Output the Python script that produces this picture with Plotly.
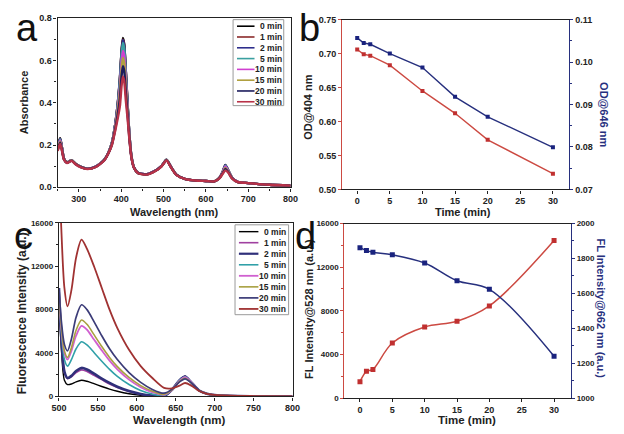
import plotly.graph_objects as go

# ---------------- DATA ----------------
series_names = ["0 min", "1 min", "2 min", "5 min", "10 min", "15 min", "20 min", "30 min"]

# Panel a: UV-vis absorbance spectra
wl_a = [250, 253, 256, 260, 265, 272, 283, 292, 305, 320, 340, 360, 370, 378, 386, 392, 397, 401,
        404, 407, 411, 415, 419, 424, 430, 440, 460, 480, 495, 507, 518, 530, 550, 575, 600, 620,
        632, 640, 646, 653, 662, 675, 700, 750, 800]
abs_0 = [0.18, 0.215, 0.232, 0.19, 0.135, 0.118, 0.128, 0.112, 0.097, 0.088, 0.098, 0.13, 0.165, 0.21, 0.30, 0.40, 0.52, 0.65,
         0.706, 0.68, 0.55, 0.40, 0.26, 0.15, 0.095, 0.068, 0.062, 0.078, 0.10, 0.13, 0.095, 0.06, 0.04, 0.032, 0.03, 0.028,
         0.045, 0.075, 0.1057, 0.080, 0.045, 0.026, 0.02, 0.012, 0.008]
abs_1 = [0.18, 0.213, 0.230, 0.189, 0.135, 0.118, 0.128, 0.112, 0.097, 0.088, 0.098, 0.13, 0.165, 0.21, 0.30, 0.399, 0.515, 0.644,
         0.699, 0.673, 0.545, 0.397, 0.26, 0.15, 0.095, 0.068, 0.062, 0.078, 0.10, 0.13, 0.095, 0.06, 0.04, 0.032, 0.03, 0.028,
         0.045, 0.0745, 0.1045, 0.0795, 0.045, 0.026, 0.02, 0.012, 0.008]
abs_2 = [0.18, 0.212, 0.229, 0.188, 0.135, 0.118, 0.128, 0.112, 0.097, 0.088, 0.098, 0.13, 0.165, 0.21, 0.30, 0.396, 0.513, 0.642,
         0.697, 0.671, 0.543, 0.396, 0.259, 0.15, 0.095, 0.068, 0.062, 0.078, 0.10, 0.13, 0.095, 0.06, 0.04, 0.032, 0.03, 0.028,
         0.045, 0.0744, 0.1042, 0.0793, 0.045, 0.026, 0.02, 0.012, 0.008]
abs_5 = [0.18, 0.210, 0.226, 0.186, 0.134, 0.118, 0.128, 0.112, 0.097, 0.088, 0.098, 0.13, 0.165, 0.209, 0.296, 0.391, 0.503, 0.629,
         0.683, 0.658, 0.532, 0.391, 0.257, 0.149, 0.095, 0.068, 0.062, 0.078, 0.10, 0.13, 0.095, 0.06, 0.04, 0.032, 0.03, 0.028,
         0.044, 0.073, 0.1020, 0.078, 0.045, 0.026, 0.02, 0.012, 0.008]
abs_10 = [0.178, 0.206, 0.221, 0.183, 0.133, 0.117, 0.127, 0.111, 0.096, 0.088, 0.098, 0.129, 0.164, 0.206, 0.290, 0.376, 0.475, 0.594,
          0.645, 0.622, 0.503, 0.376, 0.251, 0.147, 0.094, 0.068, 0.062, 0.078, 0.10, 0.129, 0.095, 0.06, 0.04, 0.032, 0.03, 0.028,
          0.044, 0.0717, 0.0987, 0.0763, 0.044, 0.026, 0.02, 0.012, 0.008]
abs_15 = [0.176, 0.202, 0.216, 0.180, 0.132, 0.117, 0.127, 0.111, 0.096, 0.087, 0.097, 0.129, 0.163, 0.204, 0.284, 0.363, 0.451, 0.564,
          0.612, 0.590, 0.477, 0.363, 0.246, 0.146, 0.094, 0.067, 0.061, 0.077, 0.099, 0.129, 0.094, 0.06, 0.04, 0.032, 0.03, 0.028,
          0.043, 0.069, 0.0918, 0.0735, 0.043, 0.025, 0.02, 0.012, 0.008]
abs_20 = [0.174, 0.198, 0.211, 0.177, 0.131, 0.116, 0.126, 0.110, 0.095, 0.087, 0.097, 0.128, 0.162, 0.202, 0.277, 0.347, 0.422, 0.528,
          0.573, 0.552, 0.447, 0.347, 0.240, 0.144, 0.093, 0.067, 0.061, 0.077, 0.099, 0.128, 0.094, 0.06, 0.04, 0.032, 0.03, 0.028,
          0.043, 0.0673, 0.0871, 0.0716, 0.042, 0.025, 0.02, 0.012, 0.008]
abs_30 = [0.172, 0.193, 0.205, 0.173, 0.130, 0.115, 0.125, 0.109, 0.094, 0.086, 0.096, 0.127, 0.161, 0.199, 0.269, 0.327, 0.385, 0.482,
          0.523, 0.504, 0.408, 0.327, 0.233, 0.142, 0.092, 0.066, 0.060, 0.076, 0.098, 0.127, 0.093, 0.059, 0.04, 0.032, 0.03, 0.028,
          0.042, 0.0646, 0.0799, 0.0686, 0.041, 0.025, 0.02, 0.012, 0.008]
abs_series = [abs_0, abs_1, abs_2, abs_5, abs_10, abs_15, abs_20, abs_30]

# Panel b: OD vs time
time_min = [0, 1, 2, 5, 10, 15, 20, 30]
od_404 = [0.706, 0.699, 0.697, 0.683, 0.645, 0.612, 0.573, 0.523]
od_646 = [0.1057, 0.1045, 0.1042, 0.1020, 0.0987, 0.0918, 0.0871, 0.0799]

# Panel c: fluorescence spectra
wl_c = [500, 503, 507, 511, 516, 522, 529, 536, 545, 555, 565, 575, 590, 605, 620, 635, 645, 655,
        662, 670, 680, 690, 700, 720, 750, 800]
fl_0 = [9000, 4500, 1500, 1100, 1150, 1350, 1490, 1400, 1180, 920, 680, 480, 250, 110, 40, 20, 600, 1520,
        1860, 1300, 550, 250, 120, 50, 20, 0]
fl_1 = [9500, 5200, 2200, 1650, 1800, 2200, 2450, 2300, 1950, 1550, 1150, 830, 460, 210, 70, 30, 600, 1500,
        1845, 1300, 550, 250, 120, 50, 20, 0]
fl_2 = [10000, 5500, 2300, 1700, 1900, 2350, 2630, 2480, 2100, 1650, 1250, 900, 500, 230, 80, 30, 600, 1500,
        1836, 1300, 550, 250, 120, 50, 20, 0]
fl_5 = [9000, 6000, 3400, 2800, 3400, 4400, 5045, 4750, 4050, 3250, 2500, 1850, 1100, 550, 220, 80, 600, 1500,
        1821, 1300, 550, 250, 120, 50, 20, 0]
fl_10 = [9300, 6300, 4000, 3400, 4200, 5600, 6500, 6150, 5250, 4250, 3300, 2500, 1550, 850, 380, 150, 600, 1450,
         1774, 1300, 550, 250, 120, 50, 20, 0]
fl_15 = [9500, 6500, 4200, 3600, 4500, 6100, 7050, 6650, 5700, 4600, 3600, 2750, 1750, 1000, 480, 200, 600, 1400,
         1672, 1250, 550, 250, 120, 50, 20, 0]
fl_20 = [10000, 7000, 4800, 4200, 5300, 7300, 8450, 8000, 6900, 5600, 4400, 3400, 2200, 1300, 650, 300, 650, 1350,
         1623, 1250, 550, 250, 120, 50, 20, 0]
fl_30 = [22000, 15500, 10000, 8300, 9800, 12800, 14450, 13600, 12000, 10000, 8000, 6300, 4300, 2800, 1700, 800, 750, 1000,
         1240, 1000, 500, 250, 150, 80, 40, 0]
fl_series = [fl_0, fl_1, fl_2, fl_5, fl_10, fl_15, fl_20, fl_30]

# Panel d: FL intensity vs time
fl_528 = [1493, 2448, 2627, 5045, 6507, 7045, 8448, 14448]
fl_662 = [1862, 1845, 1836, 1821, 1774, 1672, 1623, 1239]

# ---------------- STYLE ----------------
W, H = 624, 434
colors_a = ["#000000", "#8B2A2A", "#2E2E8C", "#3AA0A0", "#D040D0", "#B0A040", "#1C1C5C", "#B83248"]
colors_c = ["#000000", "#A040A0", "#30307A", "#30A0A8", "#D060D0", "#A8A040", "#3C3C78", "#A03232"]
widths_c = [1.4, 1.6, 2.6, 1.6, 1.8, 1.6, 1.7, 1.8]
RED = "#CC4A42"
RED_M = "#C03030"
NAVY = "#27307E"
NAVY_M = "#1A237E"
FONT = "Liberation Sans"


def X(px):
    return px / W


def Y(py):
    return 1 - py / H


tickfont = dict(family=FONT, size=9, color="#222222", weight="bold")
tickfont_s = dict(family=FONT, size=8, color="#222222", weight="bold")

fig = go.Figure()

# Panel a
for name, ys, col in zip(series_names, abs_series, colors_a):
    fig.add_trace(go.Scatter(x=wl_a, y=ys, mode="lines", name=name, line=dict(color=col, width=2.4, shape="spline", smoothing=0.6),
                             xaxis="x", yaxis="y", showlegend=False))

# Panel b
fig.add_trace(go.Scatter(x=time_min, y=od_404, mode="lines+markers", name="OD@404 nm",
                         line=dict(color=RED, width=1.4), marker=dict(symbol="square", size=4, color=RED_M),
                         xaxis="x2", yaxis="y2", showlegend=False))
fig.add_trace(go.Scatter(x=time_min, y=od_646, mode="lines+markers", name="OD@646 nm",
                         line=dict(color=NAVY, width=1.4), marker=dict(symbol="square", size=4, color=NAVY_M),
                         xaxis="x2", yaxis="y3", showlegend=False))

# Panel c
for name, ys, col, w in zip(series_names, fl_series, colors_c, widths_c):
    fig.add_trace(go.Scatter(x=wl_c, y=ys, mode="lines", name=name, line=dict(color=col, width=w, shape="spline", smoothing=0.8),
                             xaxis="x3", yaxis="y4", showlegend=False))

# Panel d
fig.add_trace(go.Scatter(x=time_min, y=fl_528, mode="lines+markers", name="FL@528 nm",
                         line=dict(color=RED, width=1.5, shape="spline", smoothing=1.0),
                         marker=dict(symbol="square", size=5, color=RED_M),
                         xaxis="x4", yaxis="y5", showlegend=False))
fig.add_trace(go.Scatter(x=time_min, y=fl_662, mode="lines+markers", name="FL@662 nm",
                         line=dict(color=NAVY, width=1.5, shape="spline", smoothing=1.0),
                         marker=dict(symbol="square", size=5, color=NAVY_M),
                         xaxis="x4", yaxis="y6", showlegend=False))


def ax(domain, rng, dtick, anchor, color="#222222", mirror=False, tick0=None, tfont=tickfont, fmt=None, side=None,
       overlaying=None, minor=True):
    d = dict(domain=domain, range=rng, dtick=dtick, anchor=anchor, showline=True, linecolor=color, linewidth=1.4,
             mirror=mirror, ticks="outside", ticklen=3, tickwidth=1.2, tickcolor=color, showgrid=False,
             zeroline=False, tickfont=tfont, fixedrange=True)
    if tick0 is not None:
        d["tick0"] = tick0
    if fmt:
        d["tickformat"] = fmt
    if side:
        d["side"] = side
    if overlaying:
        d["overlaying"] = overlaying
    if minor:
        d["minor"] = dict(ticks="outside", ticklen=2, tickcolor=color, nticks=2)
    return d


dom_a_x = [X(51), X(290)]
dom_a_y = [Y(186.6), Y(13.4)]
dom_b_x = [X(343), X(576)]
dom_b_y = [Y(188.7), Y(15)]
dom_c_x = [X(52.3), X(292)]
dom_c_y = [Y(400.7), Y(223)]
dom_d_x = [X(345.3), X(577.7)]
dom_d_y = [Y(402.3), Y(223.7)]

fig.update_layout(
    width=W, height=H, margin=dict(l=0, r=0, t=0, b=0),
    paper_bgcolor="white", plot_bgcolor="white", showlegend=False,
    xaxis=ax(dom_a_x, [250, 800], 100, "y", mirror=True, tick0=300),
    yaxis=ax(dom_a_y, [0, 0.8], 0.2, "x", mirror=True, fmt=".1f"),
    xaxis2=ax(dom_b_x, [-2.3, 32.5], 5, "y2", mirror=True, tick0=0),
    yaxis2=ax(dom_b_y, [0.50, 0.75], 0.05, "x2", color=RED, fmt=".2f"),
    yaxis3=ax(dom_b_y, [0.07, 0.11], 0.01, "x2", color=NAVY, fmt=".2f", side="right", overlaying="y2"),
    xaxis3=ax(dom_c_x, [500, 800], 50, "y4", mirror=True),
    yaxis4=ax(dom_c_y, [0, 16000], 4000, "x3", mirror=True, tfont=tickfont_s, fmt="d"),
    xaxis4=ax(dom_d_x, [-2.4, 32.6], 5, "y5", mirror=True, tick0=0),
    yaxis5=ax(dom_d_y, [0, 16000], 4000, "x4", color=RED, tfont=tickfont_s, fmt="d"),
    yaxis6=ax(dom_d_y, [1000, 2000], 200, "x4", color=NAVY, tfont=tickfont_s, fmt="d", side="right", overlaying="y5"),
)

annotations = []
shapes = []

title_font = dict(family=FONT, size=11, color="#222222", weight="bold")


def text(px, py, s, font, angle=0, xanchor="center", yanchor="middle"):
    annotations.append(dict(x=X(px), y=Y(py), xref="paper", yref="paper", text=s, showarrow=False,
                            font=font, textangle=angle, xanchor=xanchor, yanchor=yanchor, borderpad=0))


# axis titles
text(171, 212, "Wavelength (nm)", title_font)
text(16, 100, "Absorbance", title_font, angle=-90)
text(467, 212, "Time (min)", title_font)
text(307, 105, "OD@404 nm", title_font, angle=-90)
text(611, 112, "OD@646 nm", dict(family=FONT, size=11, color=NAVY, weight="bold"), angle=90)
text(175, 425, "Wavelength (nm)", dict(family=FONT, size=11.5, color="#222222", weight="bold"))
text(14, 316, "Fluorescence Intensity (a.u.)", dict(family=FONT, size=12, color="#222222", weight="bold"), angle=-90)
text(471, 425, "Time (min)", dict(family=FONT, size=11.5, color="#222222", weight="bold"))
text(309, 311, "FL Intensity@528 nm (a.u.)", dict(family=FONT, size=11, color="#222222", weight="bold"), angle=-90)
text(609, 311, "FL Intensity@662 nm (a.u.)", dict(family=FONT, size=11, color=NAVY, weight="bold"), angle=90)

# panel letters
letter_font = dict(family=FONT, size=38, color="#111111")
text(7, 24, "a", letter_font, xanchor="left")
text(298, 24, "b", letter_font, xanchor="left")
text(5, 236, "c", letter_font, xanchor="left")
text(294, 236, "d", letter_font, xanchor="left")

# legends (drawn as layout decorations)
leg_font = dict(family=FONT, size=8.5, color="#222222", weight="bold")


def legend(box, row0, step, line_x, text_x, names, cols, widths):
    x0, y0, x1, y1 = box
    shapes.append(dict(type="rect", xref="paper", yref="paper", x0=X(x0), x1=X(x1), y0=Y(y1), y1=Y(y0),
                       line=dict(color="#9A9A9A", width=1), fillcolor="white", layer="above"))
    for i, (nm, c, w) in enumerate(zip(names, cols, widths)):
        yy = row0 + i * step
        shapes.append(dict(type="line", xref="paper", yref="paper", x0=X(line_x[0]), x1=X(line_x[1]),
                           y0=Y(yy), y1=Y(yy), line=dict(color=c, width=w), layer="above"))
        text(text_x, yy, nm.replace(" ", "\u00a0"), leg_font, xanchor="right")


legend((231, 15, 283, 103), 21.7, 11.05, (235, 253), 282, series_names, colors_a, [1.6] * 8)
legend((233, 225, 288, 317), 232, 11.3, (237, 257), 286, series_names, colors_c, [w if w < 2 else 2.2 for w in widths_c])

fig.update_layout(annotations=annotations, shapes=shapes)

fig.write_html("out.html", config={"displayModeBar": False},
               post_script="document.body.style.margin='0px';")
